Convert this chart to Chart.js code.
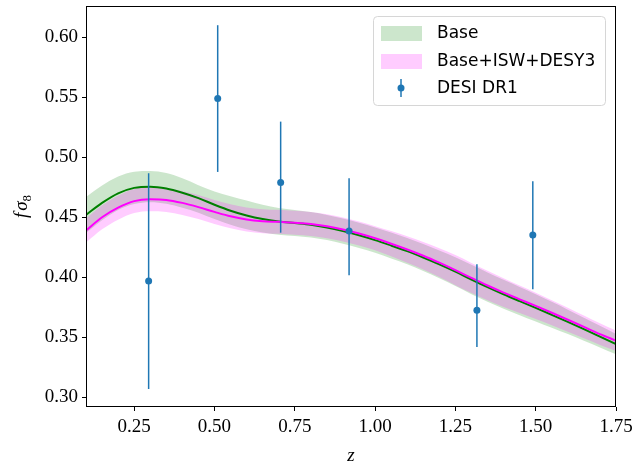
<!DOCTYPE html>
<html>
<head>
<meta charset="utf-8">
<script src="https://cdn.jsdelivr.net/npm/chart.js@4/dist/chart.umd.min.js"></script>
<style>
  body { margin: 0; background: #fff; }
  #wrap { width: 634px; height: 466px; }
</style>
</head>
<body>
<div id="wrap"><canvas id="fs8" width="634" height="466"></canvas></div>
<script>
// redshift grid of the model curves
const zGrid = [0.10, 0.15, 0.20, 0.25, 0.30, 0.35, 0.40, 0.45, 0.50, 0.55, 0.60, 0.65,
    0.70, 0.75, 0.80, 0.85, 0.90, 0.95, 1.00, 1.05, 1.10, 1.15, 1.20, 1.25,
    1.30, 1.35, 1.40, 1.45, 1.50, 1.55, 1.60, 1.65, 1.70, 1.75];

// Base: mean and 1-sigma band
const baseMean = [0.452, 0.462, 0.470, 0.4745, 0.4755, 0.474, 0.4705, 0.466, 0.4605, 0.4555, 0.4515, 0.4485,
    0.4465, 0.4452, 0.4438, 0.4415, 0.4385, 0.435, 0.431, 0.4265, 0.4218, 0.4165, 0.4108, 0.4047,
    0.3982, 0.3919, 0.3859, 0.3802, 0.3746, 0.3688, 0.3629, 0.3568, 0.3506, 0.3444];
const baseHi = [0.467, 0.4765, 0.484, 0.488, 0.4885, 0.4868, 0.4825, 0.4768, 0.4715, 0.4675, 0.464, 0.4605,
    0.4577, 0.456, 0.4544, 0.452, 0.449, 0.4455, 0.4416, 0.4373, 0.4328, 0.4278, 0.4224, 0.4167,
    0.4104, 0.4041, 0.3979, 0.3919, 0.3859, 0.3796, 0.3731, 0.3664, 0.3596, 0.3529];
const baseLo = [0.437, 0.4475, 0.456, 0.461, 0.4625, 0.4612, 0.458, 0.4538, 0.4485, 0.4437, 0.44, 0.4373,
    0.4355, 0.4344, 0.4332, 0.431, 0.428, 0.4245, 0.4204, 0.4157, 0.4108, 0.4052, 0.3992, 0.3927,
    0.386, 0.3797, 0.3739, 0.3685, 0.3633, 0.358, 0.3527, 0.3472, 0.3416, 0.3359];

// Base+ISW+DESY3: mean and 1-sigma band
const iswMean = [0.439, 0.450, 0.458, 0.4635, 0.465, 0.4645, 0.462, 0.4585, 0.4545, 0.4508, 0.4482, 0.4468,
    0.4462, 0.4455, 0.4445, 0.4425, 0.4398, 0.4365, 0.4325, 0.428, 0.4232, 0.418, 0.4122, 0.406,
    0.3995, 0.3932, 0.3873, 0.3817, 0.3762, 0.3705, 0.3647, 0.3587, 0.3527, 0.3472];
const iswHi = [0.449, 0.460, 0.468, 0.4735, 0.475, 0.4745, 0.472, 0.4685, 0.4645, 0.4608, 0.4582, 0.4568,
    0.4562, 0.4555, 0.4545, 0.4525, 0.4498, 0.4465, 0.4425, 0.4385, 0.4342, 0.4295, 0.4242, 0.4185,
    0.412, 0.4055, 0.3993, 0.3932, 0.3872, 0.381, 0.3747, 0.3682, 0.3617, 0.3557];
const iswLo = [0.429, 0.440, 0.448, 0.4535, 0.455, 0.4545, 0.452, 0.4485, 0.4445, 0.4408, 0.4382, 0.4368,
    0.4362, 0.4355, 0.4345, 0.4325, 0.4298, 0.4265, 0.4225, 0.4175, 0.4122, 0.4065, 0.4002, 0.3935,
    0.387, 0.3809, 0.3753, 0.3702, 0.3652, 0.36, 0.3547, 0.3492, 0.3437, 0.3387];

// DESI DR1 measurements, with the ends of their error bars
const desiZ = [0.295, 0.510, 0.706, 0.919, 1.317, 1.491];
const desiFs8 = [0.397, 0.549, 0.479, 0.4386, 0.3725, 0.4353];
const desiHi = [0.4867, 0.610, 0.5297, 0.4825, 0.4108, 0.480];
const desiLo = [0.307, 0.4878, 0.4372, 0.4017, 0.342, 0.390];

const xTicks = [0.25, 0.50, 0.75, 1.00, 1.25, 1.50, 1.75];
const yTicks = [0.30, 0.35, 0.40, 0.45, 0.50, 0.55, 0.60];

const GREEN = '#008000';
const MAGENTA = '#ff00ff';
const BLUE = '#1f77b4';
const SERIF = '"Liberation Serif", "DejaVu Serif", serif';
const SANS = '"DejaVu Sans", sans-serif';

const pts = (ys) => zGrid.map((z, i) => ({ x: z, y: ys[i] }));

// error bars go under the DESI markers
const errorBars = {
    id: 'errorBars',
    beforeDatasetDraw(chart, args) {
        if (args.index !== 0) return;
        const ctx = chart.ctx, xs = chart.scales.x, ys = chart.scales.y;
        ctx.save();
        ctx.strokeStyle = BLUE;
        ctx.lineWidth = 1.5;
        desiZ.forEach((z, i) => {
            const px = xs.getPixelForValue(z);
            ctx.beginPath();
            ctx.moveTo(px, ys.getPixelForValue(desiLo[i]));
            ctx.lineTo(px, ys.getPixelForValue(desiHi[i]));
            ctx.stroke();
        });
        ctx.restore();
    }
};

// axes frame, axis labels and legend
const decorations = {
    id: 'decorations',
    afterDraw(chart) {
        const ctx = chart.ctx, a = chart.chartArea;
        ctx.save();
        ctx.strokeStyle = '#000';
        ctx.lineWidth = 1;
        ctx.strokeRect(a.left + 0.5, a.top + 0.5, a.right - a.left - 1, a.bottom - a.top - 1);

        // x label
        ctx.fillStyle = '#000';
        ctx.font = 'italic 19px ' + SERIF;
        ctx.textAlign = 'center';
        ctx.textBaseline = 'alphabetic';
        ctx.fillText('z', (a.left + a.right) / 2, 461);

        // y label: f sigma_8
        ctx.save();
        ctx.translate(27, (a.top + a.bottom) / 2);
        ctx.rotate(-Math.PI / 2);
        ctx.textAlign = 'left';
        ctx.font = 'italic 19px ' + SERIF;
        const wf = ctx.measureText('f').width;
        const ws = ctx.measureText('σ').width;
        ctx.font = '13px ' + SERIF;
        const w8 = ctx.measureText('8').width;
        let x0 = -(wf + ws + w8 + 2) / 2;
        ctx.font = 'italic 19px ' + SERIF;
        ctx.fillText('f', x0, 0);
        ctx.fillText('σ', x0 + wf + 2, 0);
        ctx.font = '13px ' + SERIF;
        ctx.fillText('8', x0 + wf + ws + 2, 4);
        ctx.restore();

        // legend
        const bx = 373.5, by = 16.5, bw = 232, bh = 89, r = 4;
        ctx.beginPath();
        ctx.roundRect(bx, by, bw, bh, r);
        ctx.fillStyle = 'rgba(255,255,255,0.8)';
        ctx.fill();
        ctx.strokeStyle = '#d6d6d6';
        ctx.lineWidth = 1;
        ctx.stroke();

        const rows = [33, 61, 88];
        ctx.fillStyle = 'rgba(0,128,0,0.2)';
        ctx.fillRect(381, rows[0] - 7, 41, 15);
        ctx.fillStyle = 'rgba(255,0,255,0.2)';
        ctx.fillRect(381, rows[1] - 7, 41, 15);
        ctx.strokeStyle = BLUE;
        ctx.lineWidth = 1.5;
        ctx.beginPath();
        ctx.moveTo(401, rows[2] - 9);
        ctx.lineTo(401, rows[2] + 9);
        ctx.stroke();
        ctx.fillStyle = BLUE;
        ctx.beginPath();
        ctx.arc(401, rows[2], 3.5, 0, Math.PI * 2);
        ctx.fill();

        ctx.fillStyle = '#000';
        ctx.font = '17px ' + SANS;
        ctx.textAlign = 'left';
        ctx.textBaseline = 'middle';
        ctx.fillText('Base', 437, rows[0] + 1);
        ctx.fillText('Base+ISW+DESY3', 437, rows[1] + 1);
        ctx.fillText('DESI DR1', 437, rows[2] + 1);
        ctx.restore();
    }
};

const lineStyle = { pointRadius: 0, cubicInterpolationMode: 'monotone' };

new Chart(document.getElementById('fs8'), {
    type: 'line',
    data: {
        datasets: [
            { label: 'DESI DR1', data: desiZ.map((z, i) => ({ x: z, y: desiFs8[i] })),
              showLine: false, pointRadius: 3.5, pointBackgroundColor: BLUE, pointBorderWidth: 0 },
            { label: 'Base+ISW+DESY3 mean', data: pts(iswMean), borderColor: MAGENTA, borderWidth: 2, ...lineStyle },
            { label: 'Base mean', data: pts(baseMean), borderColor: GREEN, borderWidth: 2, ...lineStyle },
            { label: 'Base+ISW+DESY3', data: pts(iswHi), borderWidth: 0, borderColor: 'rgba(0,0,0,0)',
              fill: { target: 4 }, backgroundColor: 'rgba(255,0,255,0.2)', ...lineStyle },
            { label: 'isw lo', data: pts(iswLo), borderWidth: 0, borderColor: 'rgba(0,0,0,0)', ...lineStyle },
            { label: 'Base', data: pts(baseHi), borderWidth: 0, borderColor: 'rgba(0,0,0,0)',
              fill: { target: 6 }, backgroundColor: 'rgba(0,128,0,0.2)', ...lineStyle },
            { label: 'base lo', data: pts(baseLo), borderWidth: 0, borderColor: 'rgba(0,0,0,0)', ...lineStyle }
        ]
    },
    options: {
        responsive: false,
        animation: false,
        events: [],
        layout: { padding: { top: 6, right: 18, left: 0, bottom: 0 } },
        plugins: { legend: { display: false }, tooltip: { enabled: false } },
        scales: {
            x: {
                type: 'linear', min: 0.1, max: 1.75,
                afterFit(s) { s.height = 59; s.paddingLeft = 0; s.paddingRight = 0; },
                afterBuildTicks(s) { s.ticks = xTicks.map(v => ({ value: v })); },
                border: { display: false },
                grid: { drawOnChartArea: false, drawTicks: true, tickLength: 4, tickWidth: 1, color: '#000' },
                ticks: { color: '#000', padding: 5, maxRotation: 0, font: { family: SERIF, size: 19 },
                         callback: v => v.toFixed(2) }
            },
            y: {
                min: 0.292, max: 0.626,
                afterFit(s) { s.width = 86; s.paddingTop = 0; s.paddingBottom = 0; },
                afterBuildTicks(s) { s.ticks = yTicks.map(v => ({ value: v })); },
                border: { display: false },
                grid: { drawOnChartArea: false, drawTicks: true, tickLength: 4, tickWidth: 1, color: '#000' },
                ticks: { color: '#000', padding: 4, font: { family: SERIF, size: 19 },
                         callback: v => v.toFixed(2) }
            }
        }
    },
    plugins: [errorBars, decorations]
});
</script>
</body>
</html>
